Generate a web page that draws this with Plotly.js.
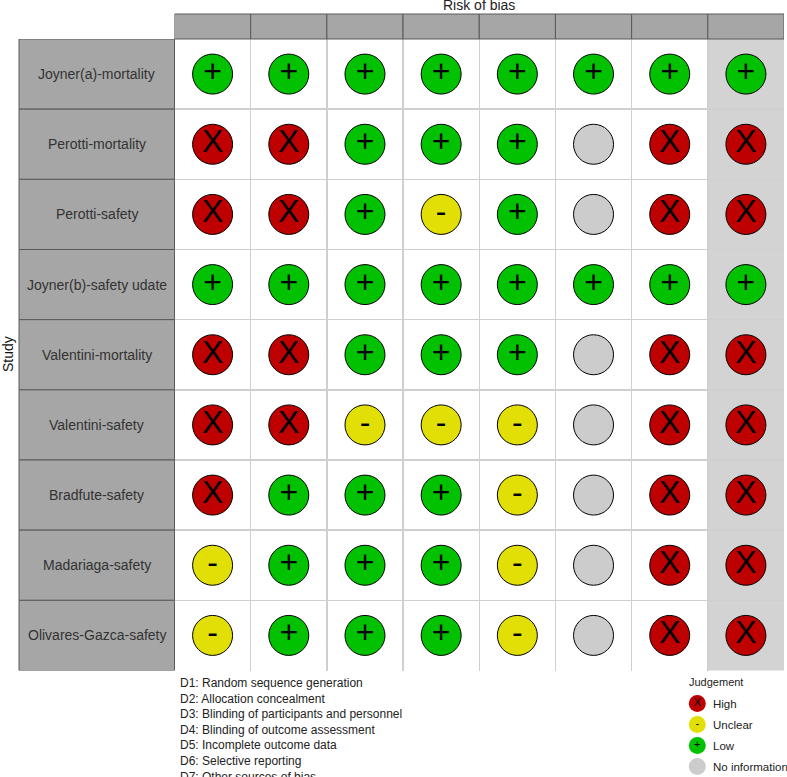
<!DOCTYPE html>
<html>
<head>
<meta charset="utf-8">
<script src="https://cdn.plot.ly/plotly-3.0.1.min.js"></script>
<style>html,body{margin:0;padding:0;background:#fff}</style>
</head>
<body>
<div id="plot"></div>
<script>
var W=787, H=777;
var studies=['Joyner(a)-mortality','Perotti-mortality','Perotti-safety','Joyner(b)-safety udate','Valentini-mortality','Valentini-safety','Bradfute-safety','Madariaga-safety','Olivares-Gazca-safety'];
var domains=['D1','D2','D3','D4','D5','D6','D7','Overall'];
// one judgement per study, top to bottom
var d1=['Low','High','High','Low','High','High','High','Unclear','Unclear'];
var d2=['Low','High','High','Low','High','High','Low','Low','Low'];
var d3=['Low','Low','Low','Low','Low','Unclear','Low','Low','Low'];
var d4=['Low','Low','Unclear','Low','Low','Unclear','Low','Low','Low'];
var d5=['Low','Low','Low','Low','Low','Unclear','Unclear','Unclear','Unclear'];
var d6=['Low','No information','No information','Low','No information','No information','No information','No information','No information'];
var d7=['Low','High','High','Low','High','High','High','High','High'];
var overall=['Low','High','High','Low','High','High','High','High','High'];
var columns=[d1,d2,d3,d4,d5,d6,d7,overall];

var judgements=['High','Unclear','Low','No information'];
var colours=['#BF0000','#E2DF07','#02C100','#CCCCCC'];
var glyphs=['X','-','+',' '];
var footnotes=['D1: Random sequence generation','D2: Allocation concealment','D3: Blinding of participants and personnel','D4: Blinding of outcome assessment','D5: Incomplete outcome data','D6: Selective reporting','D7: Other sources of bias'];

function px(x){return x/W}
function py(y){return 1-y/H}

var data=[];
judgements.forEach(function(j,k){
    var xs=[], ys=[];
    columns.forEach(function(col,c){
        col.forEach(function(v,r){
            if (v==j){xs.push(domains[c]); ys.push(studies[r]);}
        });
    });
    data.push({
        type:'scatter', mode:'markers+text', x:xs, y:ys,
        text:xs.map(function(){return glyphs[k]}),
        textposition:'middle center',
        textfont:{family:'Liberation Sans',size:32,color:'#000'},
        marker:{size:40,color:colours[k],line:{color:'#000',width:1}},
        cliponaxis:false, showlegend:false, hoverinfo:'x+y+name', name:j
    });
});
// key at the bottom right has its own little axes
data.push({
    type:'scatter', mode:'markers+text', xaxis:'x2', yaxis:'y2',
    x:judgements.map(function(){return 'key'}), y:judgements,
    text:glyphs, textposition:'middle center',
    textfont:{family:'Liberation Sans',size:11,color:'#000'},
    marker:{size:17,color:colours,line:{width:0}},
    cliponaxis:false, showlegend:false, hoverinfo:'y'
});

var shapes=[], annotations=[];
// overall column background
shapes.push({type:'rect',layer:'below',xref:'x',yref:'y domain',x0:6.5,x1:7.5,y0:0,y1:1,fillcolor:'#D3D3D3',line:{width:0}});
// strips
domains.forEach(function(d,i){
    shapes.push({type:'rect',xref:'x',yref:'paper',x0:i-0.5,x1:i+0.5,y0:py(39),y1:py(14),fillcolor:'#A6A6A6',line:{color:'#5A5A5A',width:1}});
});
studies.forEach(function(s,i){
    shapes.push({type:'rect',xref:'paper',yref:'y',x0:px(19),x1:px(174.5),y0:i-0.5,y1:i+0.5,fillcolor:'#A6A6A6',line:{color:'#5A5A5A',width:1}});
    annotations.push({xref:'paper',yref:'y',x:px(96.5),y:s,text:s,showarrow:false,xanchor:'center',yanchor:'middle',font:{size:14,color:'#333'}});
});
annotations.push({xref:'x',yref:'paper',x:3.5,y:py(5),text:'Risk of bias',showarrow:false,xanchor:'center',yanchor:'middle',font:{size:14,color:'#222'}});
annotations.push({xref:'paper',yref:'paper',x:px(8),y:py(354),text:'Study',textangle:-90,showarrow:false,xanchor:'center',yanchor:'middle',font:{size:14,color:'#111'}});
annotations.push({xref:'paper',yref:'paper',x:px(178),y:py(674),text:footnotes.join('<br>'),align:'left',showarrow:false,xanchor:'left',yanchor:'top',font:{size:12,color:'#222'}});
annotations.push({xref:'paper',yref:'paper',x:px(687),y:py(682),text:'Judgement',showarrow:false,xanchor:'left',yanchor:'middle',font:{size:11,color:'#222'}});
judgements.forEach(function(j){
    annotations.push({xref:'x2',yref:'y2',x:'key',y:j,text:j,showarrow:false,xanchor:'left',yanchor:'middle',xshift:14,font:{size:11.5,color:'#222'}});
});

var layout={
    width:W, height:H,
    margin:{l:0,r:0,t:0,b:0},
    paper_bgcolor:'#fff', plot_bgcolor:'#fff',
    font:{family:'Liberation Sans'},
    xaxis:{
        domain:[px(174.5),px(784)], type:'category', categoryorder:'array', categoryarray:domains,
        range:[-0.5,7.5], side:'top', tickson:'boundaries', ticks:'', ticklabelstandoff:6,
        showgrid:true, gridcolor:'#CFCFCF', gridwidth:1.5, showline:false, zeroline:false, fixedrange:true,
        tickfont:{size:14,color:'#333'}
    },
    yaxis:{
        domain:[py(670.5),py(39)], type:'category', categoryorder:'array', categoryarray:studies,
        range:[8.5,-0.5], tickson:'boundaries', ticks:'', showticklabels:false,
        showgrid:true, gridcolor:'#CFCFCF', gridwidth:1.5, showline:false, zeroline:false, fixedrange:true
    },
    xaxis2:{domain:[px(687.3),px(707.3)],anchor:'y2',type:'category',range:[-0.5,0.5],visible:false,fixedrange:true},
    yaxis2:{domain:[py(777),py(693)],anchor:'x2',type:'category',categoryorder:'array',categoryarray:judgements,range:[3.5,-0.5],visible:false,fixedrange:true},
    shapes:shapes,
    annotations:annotations
};

Plotly.newPlot('plot',data,layout,{staticPlot:true});
</script>
</body>
</html>
